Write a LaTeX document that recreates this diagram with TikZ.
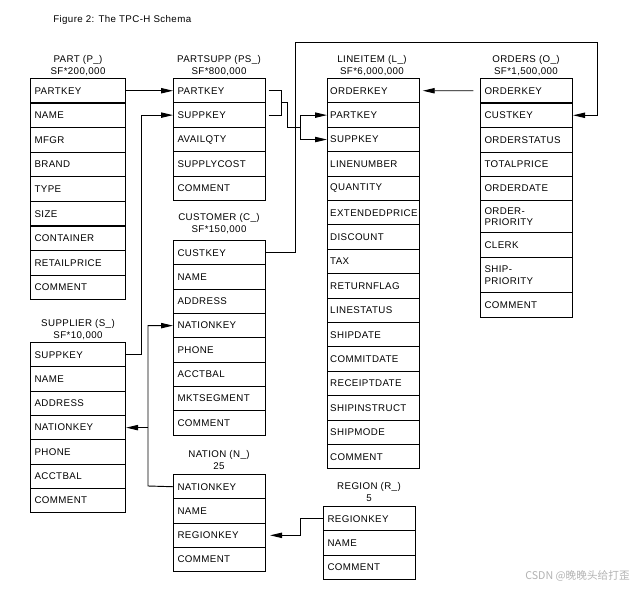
\documentclass[tikz,border=0pt]{standalone}
\usepackage{fontspec}
\setmainfont{Liberation Sans}[LetterSpace=4]
\newfontfamily\cjk{Noto Sans CJK SC}
\usetikzlibrary{arrows.meta}
\tikzset{
  row/.style={draw, line width=0.8pt, anchor=north west, inner xsep=3pt, inner ysep=0pt,
    text width=63pt, align=left, minimum height=18.3pt,
    font=\fontsize{7.3}{8.5}\selectfont},
  title/.style={font=\fontsize{7.3}{8.5}\selectfont, inner sep=0pt},
  fk/.style={line width=0.7pt, -{Triangle[length=9pt,width=4pt]}},
  link/.style={line width=0.7pt},
}
\begin{document}
\begin{tikzpicture}[x=0.75pt,y=-0.75pt]
  \useasboundingbox (0,0) rectangle (643,592);
  \node[title, anchor=west] (fig) at (53,20) {Figure 2: The TPC-H Schema};

  % PART
  \node[title] (p-title) at (78,60) {PART (P\_)};
  \node[title] (p-sf) at (78,72) {SF*200,000};
  \foreach \k/\t [count=\i] in {partkey/PARTKEY,name/NAME,mfgr/MFGR,brand/BRAND,
      type/TYPE,size/SIZE,container/CONTAINER,retailprice/RETAILPRICE,comment/COMMENT} {
    \node[row, text width=65.25pt] (p-\k) at (30,{78+(\i-1)*24.6}) {\t};
  }

  % SUPPLIER
  \node[title] (s-title) at (78,324) {SUPPLIER (S\_)};
  \node[title] (s-sf) at (78,336) {SF*10,000};
  \foreach \k/\t [count=\i] in {suppkey/SUPPKEY,name/NAME,address/ADDRESS,
      nationkey/NATIONKEY,phone/PHONE,acctbal/ACCTBAL,comment/COMMENT} {
    \node[row, text width=65.25pt] (s-\k) at (30,{342+(\i-1)*24.3}) {\t};
  }

  % PARTSUPP
  \node[title] (ps-title) at (219,60) {PARTSUPP (PS\_)};
  \node[title] (ps-sf) at (219,72) {SF*800,000};
  \foreach \k/\t [count=\i] in {partkey/PARTKEY,suppkey/SUPPKEY,availqty/AVAILQTY,
      supplycost/SUPPLYCOST,comment/COMMENT} {
    \node[row] (ps-\k) at (173,{78+(\i-1)*24.4}) {\t};
  }

  % CUSTOMER
  \node[title] (c-title) at (219,218) {CUSTOMER (C\_)};
  \node[title] (c-sf) at (219,230) {SF*150,000};
  \foreach \k/\t [count=\i] in {custkey/CUSTKEY,name/NAME,address/ADDRESS,
      nationkey/NATIONKEY,phone/PHONE,acctbal/ACCTBAL,mktsegment/MKTSEGMENT,comment/COMMENT} {
    \node[row] (c-\k) at (173,{240+(\i-1)*24.3}) {\t};
  }

  % NATION
  \node[title] (n-title) at (219,455) {NATION (N\_)};
  \node[title] (n-sf) at (219,466) {25};
  \foreach \k/\t [count=\i] in {nationkey/NATIONKEY,name/NAME,regionkey/REGIONKEY,comment/COMMENT} {
    \node[row] (n-\k) at (173,{474+(\i-1)*24.3}) {\t};
  }

  % LINEITEM
  \node[title] (l-title) at (372,60) {LINEITEM (L\_)};
  \node[title] (l-sf) at (372,72) {SF*6,000,000};
  \foreach \k/\t [count=\i] in {orderkey/ORDERKEY,partkey/PARTKEY,suppkey/SUPPKEY,
      linenumber/LINENUMBER,quantity/QUANTITY,extendedprice/EXTENDEDPRICE,
      discount/DISCOUNT,tax/TAX,returnflag/RETURNFLAG,linestatus/LINESTATUS,
      shipdate/SHIPDATE,commitdate/COMMITDATE,receiptdate/RECEIPTDATE,
      shipinstruct/SHIPINSTRUCT,shipmode/SHIPMODE,comment/COMMENT} {
    \node[row, inner xsep=2pt, text width=65pt] (l-\k) at (327,{78+(\i-1)*24.4}) {\t};
  }

  % ORDERS
  \node[title] (o-title) at (526,60) {ORDERS (O\_)};
  \node[title] (o-sf) at (526,72) {SF*1,500,000};
  \foreach \k/\t/\a/\h in {orderkey/ORDERKEY/78/24.5,custkey/CUSTKEY/102.5/24.5,
      orderstatus/ORDERSTATUS/127/25,totalprice/TOTALPRICE/152/24,
      orderdate/ORDERDATE/176/24,orderpriority/{ORDER-\\PRIORITY}/200/32,
      clerk/CLERK/232/25,shippriority/{SHIP-\\PRIORITY}/257/35,comment/COMMENT/292/25} {
    \node[row, minimum height=\h*0.75pt] (o-\k) at (480,\a) {\t};
  }

  % REGION
  \node[title] (r-title) at (369,487) {REGION (R\_)};
  \node[title] (r-sf) at (369,498) {5};
  \foreach \k/\t [count=\i] in {regionkey/REGIONKEY,name/NAME,comment/COMMENT} {
    \node[row] (r-\k) at (323,{506+(\i-1)*24.4}) {\t};
  }

  % keys
  \draw[fk] (p-partkey.east) -- (ps-partkey.west);
  \draw[fk] (s-suppkey.east) -- ++(15,0) |- (ps-suppkey.west);

  \coordinate (psj) at (281,102);
  \coordinate (lj) at (300,127);
  \draw[link, shorten <=2pt] (ps-partkey.east) -| (psj);
  \draw[link, shorten <=2pt] (ps-suppkey.east) -| (psj);
  \draw[link] (psj) -- (287,102) -- (287,127) -- (lj);
  \draw[fk] (lj) |- (l-partkey.west);
  \draw[fk] (lj) |- (l-suppkey.west);

  \coordinate (cup) at (295,42);
  \coordinate (oright) at (597,42);
  \draw[fk] (c-custkey.east) -| (cup) -- (oright) |- (o-custkey.east);

  \draw[fk, shorten <=5pt, shorten >=2pt] (o-orderkey.west) -- (l-orderkey.east);

  \coordinate (nj) at (148,486);
  \draw[fk] (n-nationkey.west) -- (nj) |- (c-nationkey.west);
  \draw[fk] (nj |- s-nationkey.east) -- (s-nationkey.east);

  \draw[fk, shorten >=3pt] (r-regionkey.west) -- ++(-23,0) |- (n-regionkey.east);

  \node[anchor=east, inner sep=0pt, text=gray!60, font=\cjk\fontsize{8}{9}\selectfont]
    (mark) at (630,576) {CSDN @晚晚头给打歪};
\end{tikzpicture}
\end{document}
